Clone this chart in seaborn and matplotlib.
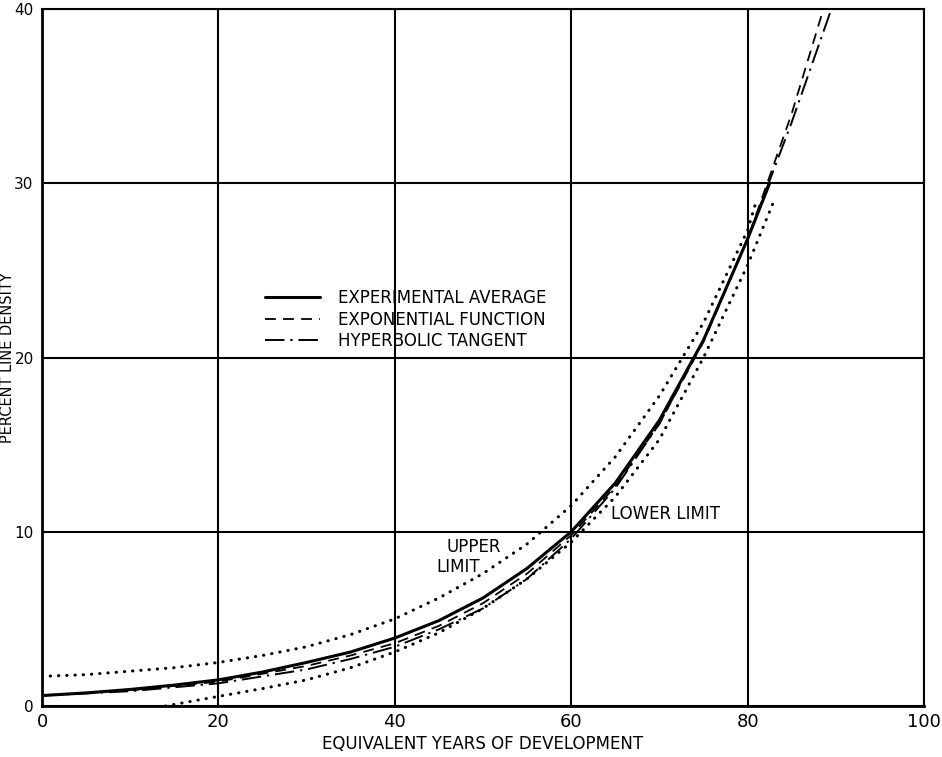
import matplotlib
matplotlib.use("Agg")
import matplotlib.pyplot as plt
import seaborn as sns

# Percent line density against equivalent years of development
exp_avg_x = [0, 5, 10, 15, 20, 25, 30, 35, 40, 45, 50, 55, 60, 65, 70, 75, 80, 82.5]
exp_avg_y = [0.6, 0.75, 0.95, 1.2, 1.5, 1.95, 2.5, 3.1, 3.9, 4.9, 6.2, 7.9, 10.0, 12.8, 16.4, 21.0, 26.8, 30.0]

expo_x = [0, 10, 20, 30, 35, 40, 45, 50, 55, 60, 65, 70, 75, 80, 85, 88.6]
expo_y = [0.6, 0.9, 1.4, 2.3, 2.9, 3.6, 4.6, 5.9, 7.6, 9.8, 12.6, 16.2, 20.9, 26.8, 34.0, 40.0]

tanh_x = [0, 10, 20, 30, 35, 40, 45, 50, 55, 60, 65, 70, 75, 80, 85, 89.5]
tanh_y = [0.6, 0.85, 1.3, 2.1, 2.7, 3.4, 4.4, 5.6, 7.3, 9.6, 12.5, 16.2, 21.0, 26.8, 33.5, 40.0]

upper_x = [0, 5, 10, 15, 20, 25, 30, 35, 40, 45, 50, 55, 60, 65, 70, 75, 80, 81]
upper_y = [1.7, 1.8, 2.0, 2.2, 2.5, 2.9, 3.4, 4.1, 5.0, 6.2, 7.6, 9.3, 11.5, 14.3, 17.8, 22.0, 27.3, 29.0]

lower_x = [14, 20, 25, 30, 35, 40, 45, 50, 55, 60, 65, 70, 75, 80, 83]
lower_y = [0.0, 0.55, 1.0, 1.5, 2.2, 3.1, 4.2, 5.6, 7.3, 9.4, 12.0, 15.3, 20.0, 25.3, 29.0]

legend_labels = ["EXPERIMENTAL AVERAGE", "EXPONENTIAL FUNCTION", "HYPERBOLIC TANGENT"]
x_ticks = [0, 20, 40, 60, 80, 100]
x_tick_labels = ["0", "20", "40", "60", "80", "100"]
y_ticks = [0, 10, 20, 30, 40]
y_tick_labels = ["0", "10", "20", "30", "40"]

sns.set_style("white")
ink = "black"
plt.rcParams.update({
    "font.family": ["DejaVu Sans"],
    "text.color": ink,
    "axes.labelcolor": ink,
    "xtick.color": ink,
    "ytick.color": ink,
})

fig = plt.figure(figsize=(9.42, 7.57), dpi=100)
W, H = 942, 757
left, right, top, bottom = 42, 924, 9, 706
ax = fig.add_axes([left / W, (H - bottom) / H, (right - left) / W, (bottom - top) / H])

sns.lineplot(x=exp_avg_x, y=exp_avg_y, ax=ax, color=ink, lw=2.2,
             label=legend_labels[0], solid_capstyle="round")
sns.lineplot(x=expo_x, y=expo_y, ax=ax, color=ink, lw=1.3,
             linestyle=(0, (6, 4)), label=legend_labels[1])
sns.lineplot(x=tanh_x, y=tanh_y, ax=ax, color=ink, lw=1.4,
             linestyle=(0, (10, 3, 1.2, 3)), label=legend_labels[2])
sns.lineplot(x=upper_x, y=upper_y, ax=ax, color=ink, lw=2.2,
             linestyle=(0, (0.1, 2.6)), dash_capstyle="round", legend=False)
sns.lineplot(x=lower_x, y=lower_y, ax=ax, color=ink, lw=2.2,
             linestyle=(0, (0.1, 2.6)), dash_capstyle="round", legend=False)

ax.set_xlim(0, 100)
ax.set_ylim(0, 40)
ax.set_xticks(x_ticks)
ax.set_xticklabels(x_tick_labels, fontsize=13)
ax.set_yticks(y_ticks)
ax.set_yticklabels(y_tick_labels, fontsize=11)
ax.tick_params(axis="x", length=0, pad=5)
ax.tick_params(axis="y", length=5, width=1.5, color=ink, pad=1, direction="out")

ax.grid(True, color=ink, lw=1.5)
for side, sp in ax.spines.items():
    sp.set_color(ink)
    sp.set_linewidth(2.0 if side in ("left", "bottom") else 1.5)

ax.set_xlabel("EQUIVALENT YEARS OF DEVELOPMENT", fontsize=12, labelpad=3)
ax.set_ylabel("PERCENT LINE DENSITY", fontsize=10.5)
ax.yaxis.set_label_coords(-0.0305, 0.5)

ax.text(48.9, 9.1, "UPPER", fontsize=12, ha="center", va="center")
ax.text(47.2, 8.0, "LIMIT", fontsize=12, ha="center", va="center")
ax.text(64.5, 11.0, "LOWER LIMIT", fontsize=12, ha="left", va="center")

handles = ax.get_lines()[:3]
ax.legend(handles=handles, labels=legend_labels, loc="upper left",
          bbox_to_anchor=(0.253, 0.598), frameon=False, fontsize=12,
          handlelength=3.3, handletextpad=1.1, labelspacing=0.2,
          borderpad=0, borderaxespad=0)

fig.savefig("out.png", dpi=100)
